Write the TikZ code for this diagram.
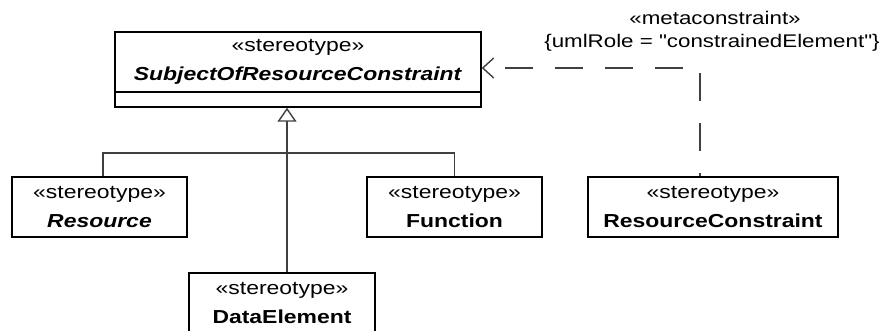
\documentclass[tikz,border=0pt]{standalone}
\usepackage{fontspec}
\setmainfont{Liberation Sans}[FakeStretch=1.22, Ligatures=TeXOff]
\usetikzlibrary{arrows.meta,positioning}

\begin{document}
\begin{tikzpicture}[x=1pt, y=-1pt,
    stereo/.style={rectangle, draw=black, line width=1.4pt, fill=white, inner sep=0pt,
      align=center, minimum height=60pt, font=\fontsize{18.8}{29}\selectfont},
    conn/.style={draw=black!75, line width=1.4pt},
    tag/.style={font=\fontsize{18.3}{23}\selectfont, anchor=base}]
  \useasboundingbox (0,0) rectangle (880,330);

  % --- Bovenste stereotype ---
  \node[stereo, minimum width=366pt] (sorcName) at (298,62)
    {«stereotype»\\\textbf{\textit{SubjectOfResourceConstraint}}};
  \node[stereo, minimum width=366pt, minimum height=15pt, below=-1.4pt of sorcName] (sorcBody) {};

  % --- Subklassen ---
  \node[stereo, minimum width=175pt] (res) at (99.5,207) {«stereotype»\\\textbf{\textit{Resource}}};
  \node[stereo, minimum width=175pt] (fun) at (454.5,207) {«stereotype»\\\textbf{Function}};
  \node[stereo, minimum width=186pt] (dataEl) at (282,303) {«stereotype»\\\textbf{DataElement}};

  % --- Constraint ---
  \node[stereo, minimum width=250pt] (resCon) at (713,207) {«stereotype»\\\textbf{ResourceConstraint}};

  % Generalisatie
  \coordinate (genTip) at ([xshift=-11pt]sorcBody.south);
  \coordinate (junction) at (287,153);
  \draw[conn, -{Triangle[open, length=14pt, width=19pt, fill=white]}] (junction) -- (genTip);
  \draw[conn] ([xshift=3.5pt]res.north) |- (junction) -| (fun.north);
  \draw[conn] ([xshift=5pt]dataEl.north) -- (junction);

  % Afhankelijkheid (gestreept)
  \draw[conn, dash pattern=on 28pt off 22pt, dash phase=28pt, {Straight Barb[length=11pt, width=20pt]}-]
    ([yshift=-6pt]sorcName.east) -| ([xshift=-13pt]resCon.north);
  \node[tag] (mcTag) at (715,24) {«metaconstraint»};
  \node[tag] (mcRole) at (712,47) {\{umlRole = "constrainedElement"\}};
\end{tikzpicture}
\end{document}
